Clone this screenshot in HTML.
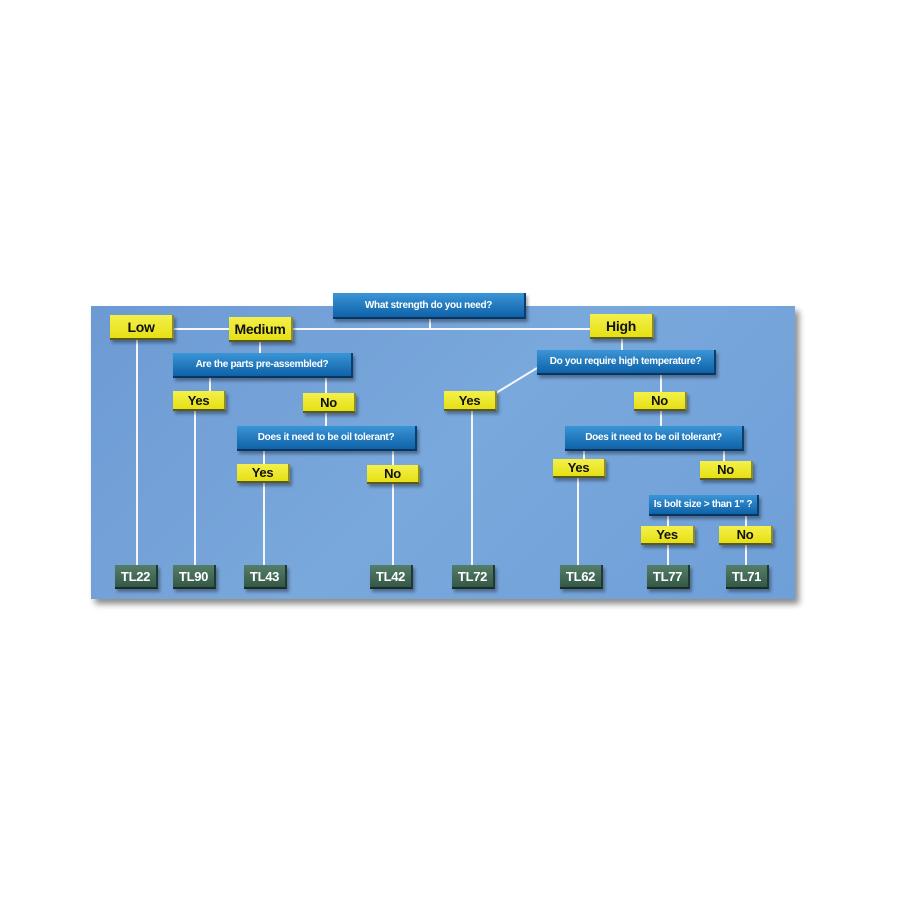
<!DOCTYPE html>
<html><head><meta charset="utf-8"><style>
body{margin:0;width:900px;height:900px;background:#fff;position:relative;overflow:hidden;font-family:"Liberation Sans",sans-serif}
.panel{position:absolute;left:91px;top:306px;width:704px;height:293px;background:linear-gradient(135deg,#6d9ad3 0%,#79a8dc 50%,#6f9fd8 100%);box-shadow:4px 5px 6px rgba(0,0,0,0.45)}
.b{position:absolute;display:flex;align-items:center;justify-content:center;font-weight:bold;box-sizing:border-box;white-space:nowrap;letter-spacing:-0.3px}
.y{background:linear-gradient(#f4f04a,#e6e015);color:#111;font-size:13px;border-bottom:2px solid #5a5a20;border-right:2px solid #8a8a30;box-shadow:2px 3px 3px rgba(0,0,0,0.35)}
.q{background:linear-gradient(#3a95d6,#0f62a8);color:#fff;font-size:10px;border-bottom:2px solid #0a3560;border-right:2px solid #0a3d70;box-shadow:2px 3px 3px rgba(0,0,0,0.35)}
.t{background:linear-gradient(#557e6a,#345846);color:#fff;font-size:13px;border-bottom:2px solid #1b2b22;border-right:2px solid #223a2e;box-shadow:2px 3px 3px rgba(0,0,0,0.35)}
svg{position:absolute;left:0;top:0}
</style></head><body>
<div class="panel"></div>
<svg width="900" height="900"><g stroke="#f4f6fa" stroke-width="2" fill="none">
<line x1="173" y1="329" x2="590" y2="329"/>
<line x1="430" y1="318" x2="430" y2="329"/>
<line x1="137" y1="339" x2="137" y2="565"/>
<line x1="260" y1="341" x2="260" y2="354"/>
<line x1="210" y1="378" x2="210" y2="391"/>
<line x1="195" y1="410" x2="195" y2="565"/>
<line x1="326" y1="378" x2="326" y2="427"/>
<line x1="264" y1="451" x2="264" y2="565"/>
<line x1="393" y1="451" x2="393" y2="565"/>
<line x1="472" y1="410" x2="472" y2="565"/>
<line x1="496" y1="393" x2="537" y2="368"/>
<line x1="622" y1="339" x2="622" y2="350"/>
<line x1="661" y1="374" x2="661" y2="426"/>
<line x1="584" y1="450" x2="584" y2="459"/>
<line x1="578" y1="477" x2="578" y2="565"/>
<line x1="724" y1="450" x2="724" y2="461"/>
<line x1="668" y1="515" x2="668" y2="565"/>
<line x1="746" y1="515" x2="746" y2="565"/>
</g></svg>
<div class="b q" style="left:333px;top:293px;width:193px;height:26px">What strength do you need?</div>
<div class="b y" style="left:110px;top:315px;width:64px;height:25px;font-size:14px">Low</div>
<div class="b y" style="left:229px;top:317px;width:64px;height:25px;font-size:14px">Medium</div>
<div class="b y" style="left:590px;top:314px;width:64px;height:25px;font-size:14px">High</div>
<div class="b q" style="left:173px;top:353px;width:180px;height:25px">Are the parts pre-assembled?</div>
<div class="b y" style="left:173px;top:391px;width:53px;height:20px">Yes</div>
<div class="b y" style="left:303px;top:393px;width:53px;height:20px">No</div>
<div class="b q" style="left:237px;top:426px;width:180px;height:25px">Does it need to be oil tolerant?</div>
<div class="b y" style="left:237px;top:464px;width:53px;height:19px">Yes</div>
<div class="b y" style="left:367px;top:465px;width:53px;height:19px">No</div>
<div class="b y" style="left:444px;top:391px;width:53px;height:20px">Yes</div>
<div class="b q" style="left:537px;top:350px;width:179px;height:25px">Do you require high temperature?</div>
<div class="b y" style="left:634px;top:392px;width:53px;height:19px">No</div>
<div class="b q" style="left:565px;top:426px;width:179px;height:25px">Does it need to be oil tolerant?</div>
<div class="b y" style="left:553px;top:459px;width:53px;height:19px">Yes</div>
<div class="b y" style="left:700px;top:461px;width:53px;height:19px">No</div>
<div class="b q" style="left:649px;top:495px;width:110px;height:21px">Is bolt size &gt; than 1" ?</div>
<div class="b y" style="left:641px;top:526px;width:54px;height:19px">Yes</div>
<div class="b y" style="left:719px;top:526px;width:54px;height:19px">No</div>
<div class="b t" style="left:115px;top:565px;width:43px;height:24px">TL22</div>
<div class="b t" style="left:173px;top:565px;width:43px;height:24px">TL90</div>
<div class="b t" style="left:244px;top:565px;width:43px;height:24px">TL43</div>
<div class="b t" style="left:370px;top:565px;width:43px;height:24px">TL42</div>
<div class="b t" style="left:452px;top:565px;width:43px;height:24px">TL72</div>
<div class="b t" style="left:560px;top:565px;width:43px;height:24px">TL62</div>
<div class="b t" style="left:647px;top:565px;width:43px;height:24px">TL77</div>
<div class="b t" style="left:726px;top:565px;width:43px;height:24px">TL71</div>
</body></html>
